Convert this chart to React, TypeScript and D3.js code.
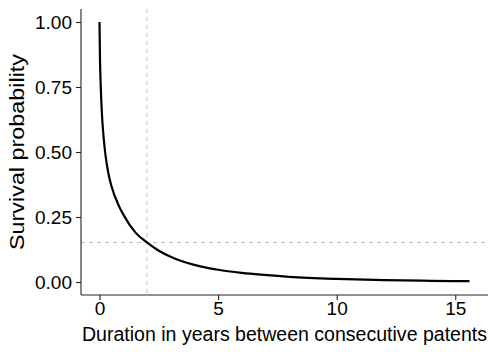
import { useEffect, useRef } from "react";
import * as d3 from "d3";

// survival curve (years, probability)
const years = [0, 0.02, 0.05, 0.1, 0.18, 0.25, 0.37, 0.5, 0.82, 1, 1.52, 2, 2.5, 3, 3.42, 4, 5, 6, 6.8, 8, 10, 12, 14, 15.6];
const survival = [1.0, 0.86, 0.76, 0.65, 0.55, 0.49, 0.42, 0.37, 0.292, 0.26, 0.19, 0.152, 0.12, 0.097, 0.082, 0.066, 0.047, 0.035, 0.028, 0.02, 0.012, 0.007, 0.0045, 0.003];
const xTicks = [0, 5, 10, 15];
const yTicks = [0, 0.25, 0.5, 0.75, 1];
const cutYear = 2;
const cutProb = 0.152;

const W = 498;
const H = 356;
const margin = { top: 9, right: 10, bottom: 61, left: 81 };

export default function App() {
  const ref = useRef<SVGSVGElement>(null);

  useEffect(() => {
    const svg = d3.select(ref.current);
    svg.selectAll("*").remove();

    const x = d3.scaleLinear().domain([-0.78, 16.38]).range([margin.left, W - margin.right]);
    const y = d3.scaleLinear().domain([-0.05, 1.05]).range([H - margin.bottom, margin.top]);
    const font = "'Liberation Sans', Arial, sans-serif";

    // reference lines
    svg.append("line")
      .attr("x1", x(cutYear)).attr("x2", x(cutYear))
      .attr("y1", margin.top).attr("y2", H - margin.bottom)
      .attr("stroke", "#bdbdbd").attr("stroke-width", 1).attr("stroke-dasharray", "4,4");
    svg.append("line")
      .attr("x1", margin.left).attr("x2", W - margin.right)
      .attr("y1", y(cutProb)).attr("y2", y(cutProb))
      .attr("stroke", "#bdbdbd").attr("stroke-width", 1).attr("stroke-dasharray", "4,4");

    const pts = years.map((t, i) => [t, survival[i]] as [number, number]);
    const line = d3.line<[number, number]>()
      .x((d) => x(d[0]))
      .y((d) => y(d[1]))
      .curve(d3.curveMonotoneX);
    svg.append("path")
      .datum(pts)
      .attr("d", line)
      .attr("fill", "none")
      .attr("stroke", "#000")
      .attr("stroke-width", 2.2);

    const gx = svg.append("g")
      .attr("transform", `translate(0,${H - margin.bottom})`)
      .call(d3.axisBottom(x).tickValues(xTicks).tickSize(5).tickPadding(2).tickFormat(d3.format("d")));
    const gy = svg.append("g")
      .attr("transform", `translate(${margin.left},0)`)
      .call(d3.axisLeft(y).tickValues(yTicks).tickSize(5).tickPadding(4).tickFormat(d3.format(".2f")));

    for (const g of [gx, gy]) {
      g.select(".domain").attr("stroke", "#222").attr("stroke-width", 1.1);
      g.selectAll(".tick line").attr("stroke", "#222").attr("stroke-width", 1.1);
      g.selectAll(".tick text").attr("fill", "#000").attr("font-size", 19).attr("font-family", font);
    }
    gx.select(".domain").attr("d", `M${margin.left},0H${W - margin.right}`);
    gy.select(".domain").attr("d", `M0,${margin.top}V${H - margin.bottom}`);

    svg.append("text")
      .attr("x", (margin.left + W - margin.right) / 2)
      .attr("y", H - 15)
      .attr("text-anchor", "middle")
      .attr("font-size", 19.5)
      .attr("font-family", font)
      .attr("textLength", 405)
      .attr("lengthAdjust", "spacingAndGlyphs")
      .text("Duration in years between consecutive patents");

    svg.append("text")
      .attr("transform", `translate(24,${(margin.top + H - margin.bottom) / 2}) rotate(-90)`)
      .attr("text-anchor", "middle")
      .attr("font-size", 19.5)
      .attr("font-family", font)
      .attr("textLength", 196)
      .attr("lengthAdjust", "spacingAndGlyphs")
      .text("Survival probability");
  }, []);

  return (
    <svg
      ref={ref}
      width={W}
      height={H}
      style={{ position: "absolute", left: 0, top: 0, background: "#fff" }}
    />
  );
}
